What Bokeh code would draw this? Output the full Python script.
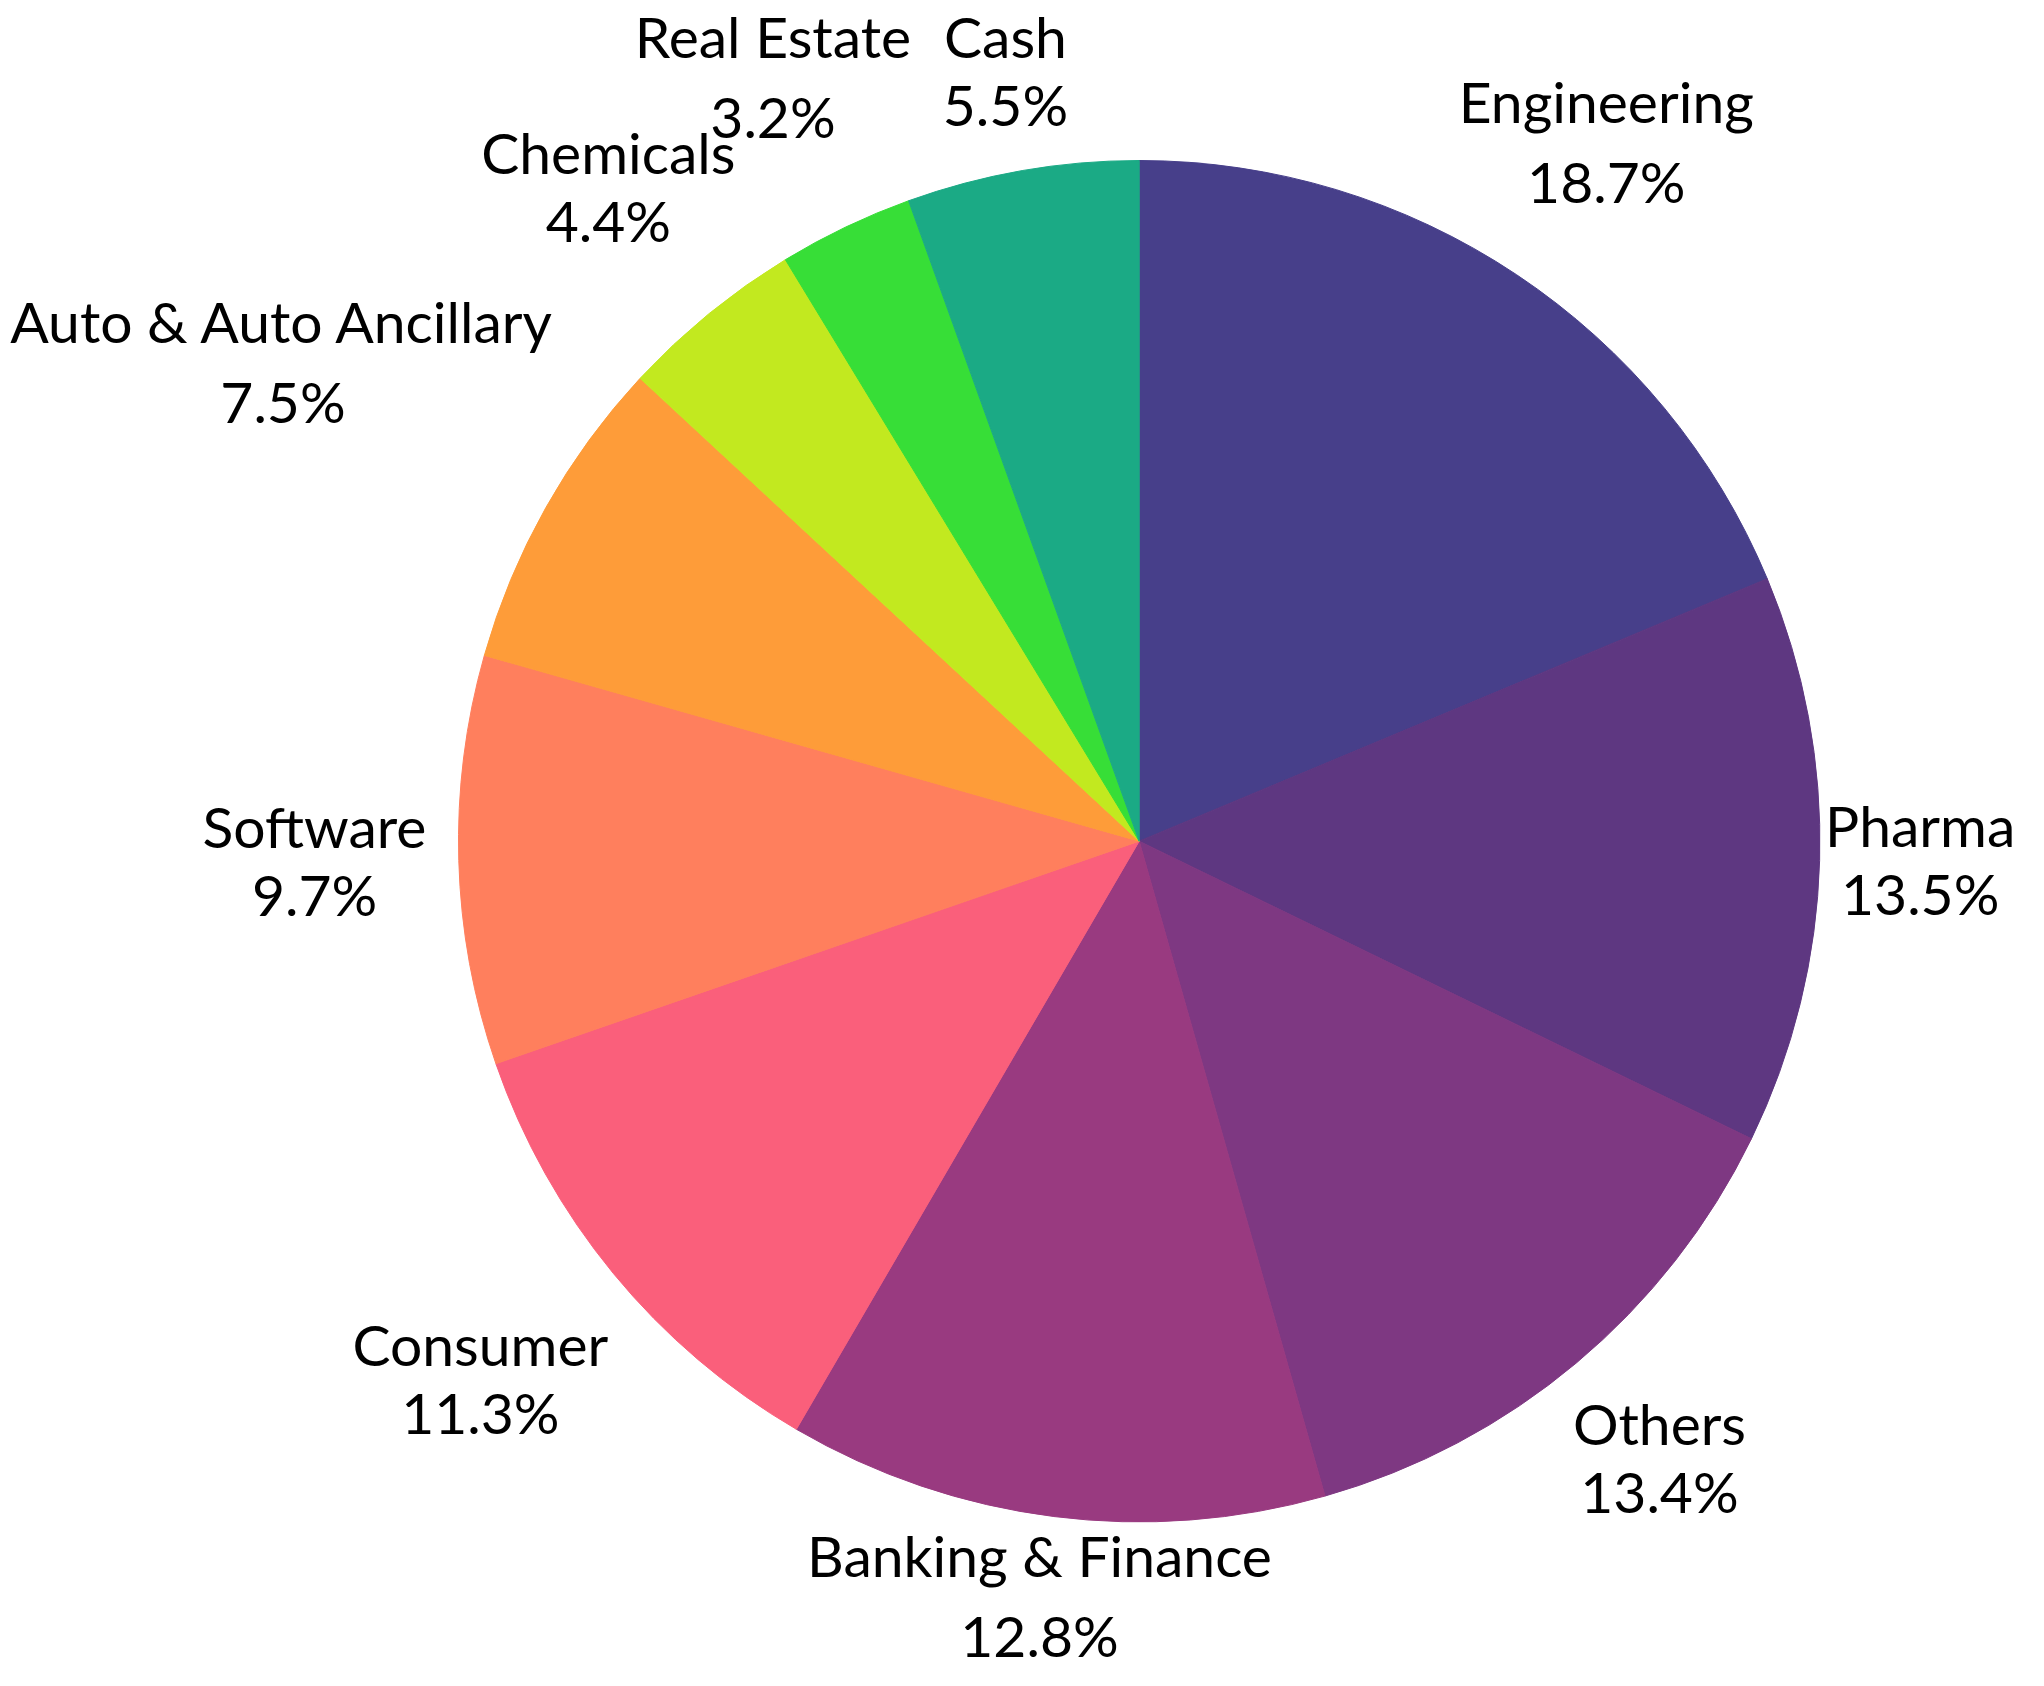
import math
from bokeh.plotting import figure
from bokeh.models import Range1d, ColumnDataSource
from bokeh.core.properties import value
from bokeh.embed import file_html
from bokeh.resources import INLINE

sectors = ["Engineering", "Pharma", "Others", "Banking & Finance", "Consumer",
           "Software", "Auto & Auto Ancillary", "Chemicals", "Real Estate", "Cash"]
weights = [18.7, 13.5, 13.4, 12.8, 11.3, 9.7, 7.5, 4.4, 3.2, 5.5]
colors = ["#473F8A", "#5E3781", "#7E3882", "#993A80", "#FA5F7B",
          "#FF7F5D", "#FE9C39", "#C2E91F", "#37DE37", "#1BAA85"]

# layout: distance of each label block from the centre, as a multiple of the radius
label_dist = [1.238, 1.184, 1.19, 1.169, 1.253, 1.212, 1.443, 1.233, 1.247, 1.143]

W, H = 2028, 1670
CX, CY, R = 1138.7, 829.3, 680.7
FS = 57
TXT_SHIFT = 20      # compensates the renderer's baseline placement


def text_width(t):
    wsum = 0.0
    for ch in t:
        if ch in "iltfrj .":
            wsum += 0.3
        elif ch.isupper():
            wsum += 0.65
        elif ch == "m":
            wsum += 0.85
        else:
            wsum += 0.55
    return wsum * FS


total = sum(weights)
starts, ends, lx, ny, py, pct = [], [], [], [], [], []
cum = 0.0
for name, w, k in zip(sectors, weights, label_dist):
    a0 = cum / total
    cum += w
    a1 = cum / total
    starts.append(math.pi / 2 - a0 * 2 * math.pi)
    ends.append(math.pi / 2 - a1 * 2 * math.pi)
    mid = (a0 + a1) / 2 * 2 * math.pi  # clockwise from top
    s, c = math.sin(mid), math.cos(mid)
    r = k * R
    x = CX + r * s
    yc = CY + r * c
    # keep labels inside the canvas
    half_w = 0.5 * text_width(name)
    x = min(x, W - half_w - 10)
    x = max(x, half_w + 8)
    gap = 80 if len(name) >= 10 else 68
    n_y = yc + 19 + TXT_SHIFT
    p_y = n_y - gap
    if p_y < 36:
        n_y += 36 - p_y
        p_y = 36
    lx.append(x)
    ny.append(n_y)
    py.append(p_y)
    pct.append(f"{w:.1f}%")

src = ColumnDataSource(dict(start=starts, end=ends, color=colors,
                            lx=lx, ny=ny, py=py, name=sectors, pct=pct))

p = figure(width=W, height=H, x_range=Range1d(0, W), y_range=Range1d(0, H),
           output_backend="svg", toolbar_location=None, min_border=0,
           x_axis_location=None, y_axis_location=None)
p.grid.visible = False
p.outline_line_color = None
p.background_fill_color = "white"
p.border_fill_color = "white"

p.wedge(x=CX, y=CY, radius=R, start_angle="start", end_angle="end",
        direction="clock", fill_color="color", line_color="color",
        line_width=1, source=src)

p.text(x="lx", y="ny", text="name", source=src, text_font=value("Lato"),
       text_font_size=f"{FS}px", text_align="center",
       text_baseline="alphabetic", text_color="black")
p.text(x="lx", y="py", text="pct", source=src, text_font=value("Lato"),
       text_font_size=f"{FS}px", text_align="center",
       text_baseline="alphabetic", text_color="black")

open("out.html", "w").write(file_html(p, INLINE))
